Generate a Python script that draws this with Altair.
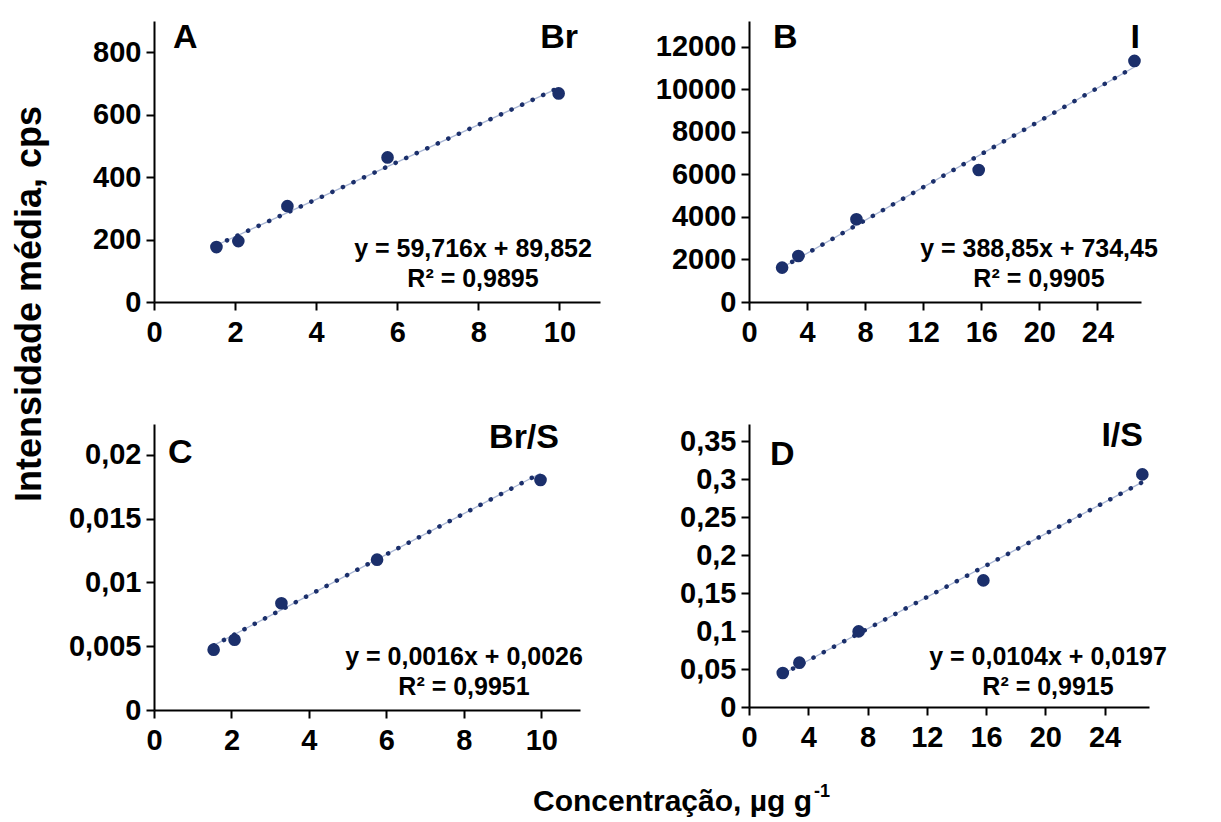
import altair as alt
import pandas as pd

# Calibration data: concentration (µg g-1) and mean intensity / ratio
br_conc = [1.54, 2.08, 3.29, 5.76, 9.98]
br_int = [176, 195, 307, 463, 668]
br_ratio = [0.00473, 0.00551, 0.00837, 0.01179, 0.01804]

i_conc = [2.28, 3.40, 7.40, 15.82, 26.55]
i_int = [1618, 2165, 3892, 6212, 11341]
i_ratio = [0.0447, 0.0583, 0.0995, 0.1666, 0.3061]

# Linear fits (slope, intercept, R²) as reported on each panel
fits = {
    "A": (59.716, 89.852, "y = 59,716x + 89,852", "R² = 0,9895"),
    "B": (388.85, 734.45, "y = 388,85x + 734,45", "R² = 0,9905"),
    "C": (0.0016, 0.0026, "y = 0,0016x + 0,0026", "R² = 0,9951"),
    "D": (0.0104, 0.0197, "y = 0,0104x + 0,0197", "R² = 0,9915"),
}

x_ticks_br = [0, 2, 4, 6, 8, 10]
x_ticks_i = [0, 4, 8, 12, 16, 20, 24]
y_ticks_a = [0, 200, 400, 600, 800]
y_ticks_b = [0, 2000, 4000, 6000, 8000, 10000, 12000]
y_ticks_c = [0, 0.005, 0.01, 0.015, 0.02]
y_ticks_d = [0, 0.05, 0.1, 0.15, 0.2, 0.25, 0.3, 0.35]

NAVY = "#1b2f6b"
FONT = "Liberation Sans"
LABEL_EXPR = "replace(toString(datum.value), '.', ',')"


def axis(values, pad):
    return alt.Axis(
        values=values, labelExpr=LABEL_EXPR, title=None, grid=False,
        domainColor="black", domainWidth=2, tickColor="black", tickWidth=2,
        tickSize=8, labelFont=FONT, labelFontWeight="bold", labelFontSize=29,
        labelColor="black", labelPadding=pad, labelFlush=False,
        labelOverlap=False,
    )


def text_layer(txt, x, y, size, align="left", baseline="top", angle=0):
    kw = dict(font=FONT, fontWeight="bold", fontSize=size, color="black",
              align=align, baseline=baseline, lineBreak="\n", lineHeight=30)
    if angle:
        kw["angle"] = angle
    return alt.Chart(pd.DataFrame({"t": [txt]})).mark_text(**kw).encode(
        x=alt.value(x), y=alt.value(y), text="t:N"
    )


def panel(key, conc, vals, xdom, ydom, xticks, yticks, w, h,
          letter_xy, elem, elem_xy, eq_xy, extra=()):
    slope, icpt, eq, r2 = fits[key]
    pts = pd.DataFrame({"x": conc, "y": vals})
    xs = [min(conc), max(conc)]
    trend = pd.DataFrame({"x": xs, "y": [slope * v + icpt for v in xs]})
    xsc = alt.Scale(domain=xdom, nice=False, zero=True)
    ysc = alt.Scale(domain=ydom, nice=False, zero=True)

    line = alt.Chart(trend).mark_line(
        color=NAVY, strokeWidth=4.5, strokeDash=[0.1, 11.5], strokeCap="round"
    ).encode(x=alt.X("x:Q", scale=xsc, axis=axis(xticks, 8)),
             y=alt.Y("y:Q", scale=ysc, axis=axis(yticks, 5)))
    thin = alt.Chart(trend).mark_line(
        color="#6f86b8", strokeWidth=1.3, opacity=0.6
    ).encode(x="x:Q", y="y:Q")
    dots = alt.Chart(pts).mark_circle(size=160, color=NAVY, opacity=1).encode(
        x="x:Q", y="y:Q"
    )
    layers = [thin, line, dots,
              text_layer(key, letter_xy[0], letter_xy[1], 34),
              text_layer(elem, elem_xy[0], elem_xy[1], 34, align="right"),
              text_layer(eq + "\n" + r2, eq_xy[0], eq_xy[1], 25, align="center",
                         baseline="middle")]
    layers += list(extra)
    return alt.layer(*layers).properties(width=w, height=h)


y_title = text_layer("Intensidade média, cps", -141, 283, 36, align="center",
                     angle=270)
x_title = text_layer("Concentração, µg g", 658, 387, 30, align="right",
                     baseline="alphabetic")
x_title_sup = text_layer("-1", 660, 373, 18, baseline="alphabetic")

pa = panel("A", br_conc, br_int, [0, 11], [0, 900], x_ticks_br, y_ticks_a,
           446, 281, (19, 0), "Br", (424, 0), (319, 228), extra=[y_title])
pb = panel("B", i_conc, i_int, [0, 27], [0, 13220], x_ticks_i, y_ticks_b,
           392, 281, (24, 0), "I", (391, 0), (290, 228))
pc = panel("C", br_conc, br_ratio, [0, 11], [0, 0.02243], x_ticks_br, y_ticks_c,
           426, 286, (14, 12), "Br/S", (405, -3), (310, 233),
           extra=[x_title, x_title_sup])
pd_ = panel("D", i_conc, i_ratio, [0, 27], [0, 0.3724], x_ticks_i, y_ticks_d,
            400, 283, (21, 14), "I/S", (394, -5), (299, 233))

chart = alt.concat(
    pa, pb, pc, pd_, columns=2, spacing={"row": 122, "column": 149},
    bounds="flush",
).properties(
    padding={"left": 12, "top": 21, "right": 5, "bottom": 5},
    background="white",
).configure_view(stroke=None)

chart.save("out.html", embed_options={"renderer": "svg", "actions": False})
